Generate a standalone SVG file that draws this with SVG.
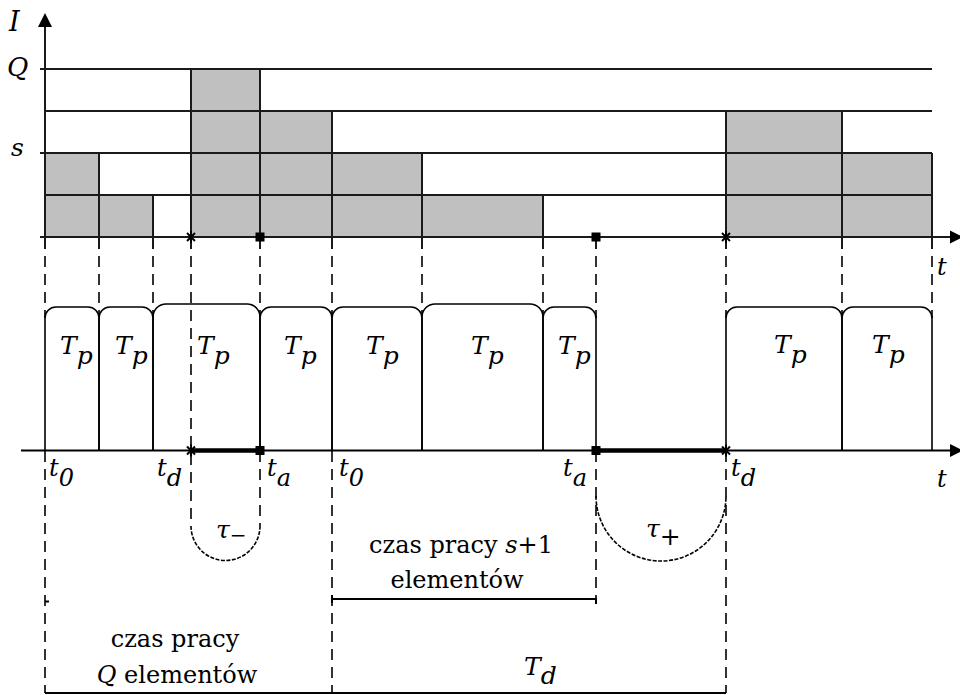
<svg xmlns="http://www.w3.org/2000/svg" width="960" height="695" viewBox="0 0 960 695">
  <style>
    .bar { fill: #c0c0c0; stroke: none; }
    .grid { stroke: #1a1a1a; stroke-width: 2; fill: none; }
    .box { stroke: #000; stroke-width: 1.6; fill: none; }
    .dash { stroke: #000; stroke-width: 1.6; stroke-dasharray: 11 7; fill: none; }
    .dot { stroke: #000; stroke-width: 1.6; stroke-dasharray: 4 1.5; fill: none; }
    .thin { stroke: #000; stroke-width: 2; fill: none; }
    .thick { stroke: #000; stroke-width: 4.5; fill: none; }
    text { font-family: 'DejaVu Serif', serif; fill: #000; }
    .m { font-style: italic; }
    .r { font-size: 24px; }
    .tp { font-size: 25px; }
    .tl { font-size: 24px; }
  </style>
  <defs>
    <g id="star">
      <path d="M-4,-4 L4,4 M-4,4 L4,-4 M0,-6 V6" stroke="#000" stroke-width="2" fill="none"/>
    </g>
    <rect id="sq" x="-4.5" y="-4.5" width="9" height="9" fill="#000"/>
    <path id="arrowR" d="M0,-6.5 L13,0 L0,6.5 Z" fill="#000"/>
  </defs>

  <!-- upper chart: number of working elements I(t) -->
  <g id="load-bars">
    <rect class="bar" x="45" y="153" width="54" height="84"/>
    <rect class="bar" x="99" y="195" width="54" height="42"/>
    <rect class="bar" x="191" y="69" width="69" height="168"/>
    <rect class="bar" x="260" y="111" width="72" height="126"/>
    <rect class="bar" x="332" y="153" width="90" height="84"/>
    <rect class="bar" x="422" y="195" width="121" height="42"/>
    <rect class="bar" x="726" y="111" width="116" height="126"/>
    <rect class="bar" x="842" y="153" width="90" height="84"/>
  </g>

  <g id="load-grid">
    <path class="grid" d="M40,69 H932 M45,111 H932 M40,153 H932 M45,195 H932 M40,237 H952"/>
    <path class="grid" d="M45,24 V249 M99,153 V249 M153,195 V249 M191,69 V249 M260,69 V249 M332,111 V249 M422,153 V249 M543,195 V249 M596,237 V249 M726,111 V249 M842,111 V249 M932,153 V249"/>
    <path d="M45,13 L38,27 L52,27 Z" fill="#000"/>
    <use href="#arrowR" x="950" y="237"/>
    <use href="#star" x="191" y="237"/>
    <use href="#sq" x="260" y="237"/>
    <use href="#sq" x="596" y="237"/>
    <use href="#star" x="726" y="237"/>
    <text class="m" x="9" y="31" font-size="27">I</text>
    <text class="m" x="7" y="76" font-size="26">Q</text>
    <text class="m" x="11" y="156" font-size="25">s</text>
    <text class="m tl" x="937" y="275">t</text>
  </g>

  <!-- connectors: projection lines and spans -->
  <g id="connectors">
    <path class="dash" d="M45,256 V318 M99,256 V316 M153,256 V316 M191,256 V526 M260,256 V317 M332,256 V316 M422,256 V316 M543,256 V316 M596,256 V318 M726,256 V318 M842,256 V316 M932,256 V318"/>
    <path class="dash" d="M45,451 V693 M260,451 V526 M332,451 V693 M596,451 V600 M726,451 V693"/>
    <path class="dot" d="M191,526 A34.5,34.5 0 0 0 260,526"/>
    <path class="dot" d="M596,496 A65,65 0 0 0 726,496"/>
    <path class="thin" d="M21,450.5 H952"/>
    <use href="#arrowR" x="950" y="450.5"/>
    <path class="thick" d="M191,450.5 H260 M596,450.5 H726"/>
    <use href="#star" x="191" y="450.5"/>
    <use href="#sq" x="260" y="450.5"/>
    <use href="#sq" x="596" y="450.5"/>
    <use href="#star" x="726" y="450.5"/>
    <path class="thin" d="M332,595 V603 M332,599 H596 V604"/>
    <path class="thin" d="M45,693 H726"/>
    <path class="thin" stroke-width="1.5" d="M45,601.5 H49"/>
  </g>

  <!-- service intervals T_p -->
  <g id="tp1"><path class="box" d="M45,450 V318 A11,11 0 0 1 56,307 H88 A11,11 0 0 1 99,318 V450"/><text class="m tp" x="60" y="354">T<tspan dy="10">p</tspan></text></g>
  <g id="tp2"><path class="box" d="M99,450 V318 A11,11 0 0 1 110,307 H142 A11,11 0 0 1 153,318 V450"/><text class="m tp" x="115" y="354">T<tspan dy="10">p</tspan></text></g>
  <g id="tp3"><path class="box" d="M153,450 V317 A13,13 0 0 1 166,304 H247 A13,13 0 0 1 260,317 V450"/><text class="m tp" x="197" y="354">T<tspan dy="10">p</tspan></text></g>
  <g id="tp4"><path class="box" d="M260,450 V318 A11,11 0 0 1 271,307 H321 A11,11 0 0 1 332,318 V450"/><text class="m tp" x="284" y="354">T<tspan dy="10">p</tspan></text></g>
  <g id="tp5"><path class="box" d="M332,450 V318 A11,11 0 0 1 343,307 H411 A11,11 0 0 1 422,318 V450"/><text class="m tp" x="366" y="354">T<tspan dy="10">p</tspan></text></g>
  <g id="tp6"><path class="box" d="M422,450 V317 A13,13 0 0 1 435,304 H530 A13,13 0 0 1 543,317 V450"/><text class="m tp" x="471" y="354">T<tspan dy="10">p</tspan></text></g>
  <g id="tp7"><path class="box" d="M543,450 V318 A11,11 0 0 1 554,307 H585 A11,11 0 0 1 596,318 V450"/><text class="m tp" x="558" y="354">T<tspan dy="10">p</tspan></text></g>
  <g id="tp8"><path class="box" d="M726,450 V318 A11,11 0 0 1 737,307 H831 A11,11 0 0 1 842,318 V450"/><text class="m tp" x="774" y="353">T<tspan dy="10">p</tspan></text></g>
  <g id="tp9"><path class="box" d="M842,450 V318 A11,11 0 0 1 853,307 H921 A11,11 0 0 1 932,318 V450"/><text class="m tp" x="872" y="353">T<tspan dy="10">p</tspan></text></g>

  <!-- time instants -->
  <g id="time-labels">
    <text class="m tl" x="49" y="476">t<tspan dy="10">0</tspan></text>
    <text class="m tl" x="157" y="476">t<tspan dy="10">d</tspan></text>
    <text class="m tl" x="267" y="476">t<tspan dy="10">a</tspan></text>
    <text class="m tl" x="339" y="476">t<tspan dy="10">0</tspan></text>
    <text class="m tl" x="563" y="476">t<tspan dy="10">a</tspan></text>
    <text class="m tl" x="731" y="476">t<tspan dy="10">d</tspan></text>
    <text class="m tl" x="937" y="487">t</text>
  </g>

  <g id="tau-minus"><text class="m" x="216" y="538" font-size="25">τ<tspan dy="4" font-size="20">−</tspan></text></g>
  <g id="tau-plus"><text class="m" x="646" y="537" font-size="25">τ<tspan font-style="normal" dy="8">+</tspan></text></g>

  <g id="span-s1">
    <text class="r" x="461" y="553" text-anchor="middle">czas pracy <tspan font-style="italic">s</tspan>+1</text>
    <text class="r" x="457" y="588" text-anchor="middle">elementów</text>
  </g>
  <g id="span-Q">
    <text class="r" x="175" y="647" text-anchor="middle">czas pracy</text>
    <text class="r" x="177" y="683" text-anchor="middle"><tspan font-style="italic">Q</tspan> elementów</text>
  </g>
  <g id="span-Td"><text class="m" x="524" y="675" font-size="25">T<tspan dy="9">d</tspan></text></g>
</svg>
